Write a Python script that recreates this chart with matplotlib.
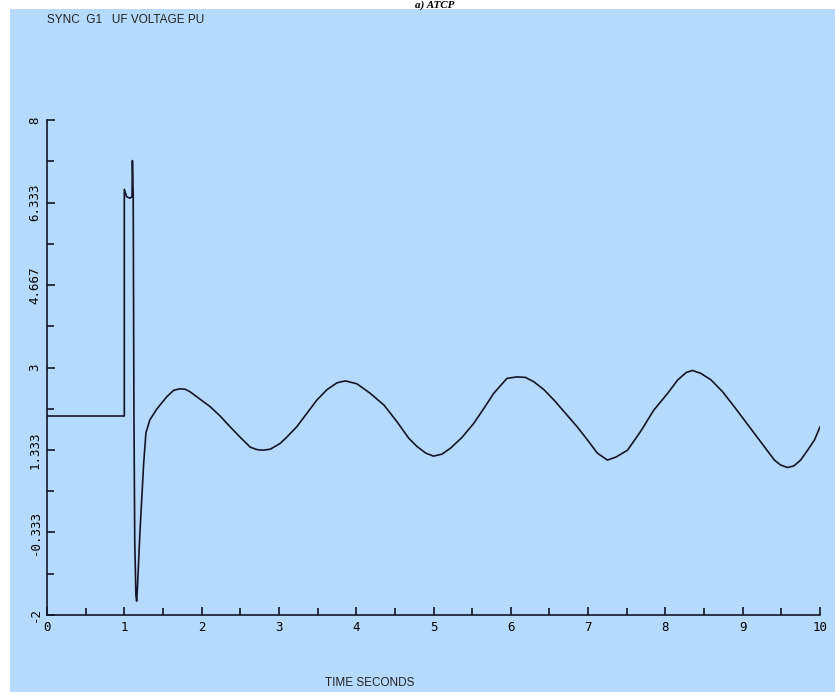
import matplotlib
matplotlib.use("Agg")
import matplotlib.pyplot as plt
from matplotlib.patches import Rectangle

# datos (tiempo en s, tension en pu)
tiempo = [0.0, 1.0, 1.0, 1.03, 1.07, 1.10, 1.105, 1.115, 1.125, 1.135,
          1.15, 1.16, 1.17, 1.20, 1.25, 1.28, 1.33, 1.42, 1.55, 1.64,
          1.72, 1.79, 1.85, 1.98, 2.11, 2.24, 2.37, 2.50, 2.63, 2.72,
          2.80, 2.89, 3.02, 3.10, 3.23, 3.36, 3.49, 3.62, 3.75, 3.86,
          4.01, 4.18, 4.36, 4.53, 4.68, 4.79, 4.90, 5.00, 5.11, 5.22,
          5.37, 5.52, 5.65, 5.78, 5.95, 6.08, 6.19, 6.30, 6.43, 6.56,
          6.71, 6.86, 6.99, 7.12, 7.25, 7.36, 7.51, 7.68, 7.85, 8.03,
          8.16, 8.27, 8.35, 8.46, 8.59, 8.74, 8.89, 9.02, 9.15, 9.28,
          9.41, 9.49, 9.58, 9.66, 9.75, 9.84, 9.93, 10.0]
tension = [2.02, 2.02, 6.60, 6.45, 6.42, 6.45, 7.18, 6.50, 2.00, -0.50,
           -1.60, -1.72, -1.45, -0.40, 1.05, 1.68, 1.94, 2.16, 2.41, 2.54,
           2.57, 2.56, 2.51, 2.36, 2.21, 2.02, 1.80, 1.59, 1.39, 1.34,
           1.33, 1.35, 1.47, 1.59, 1.80, 2.07, 2.34, 2.55, 2.69, 2.73,
           2.67, 2.48, 2.24, 1.90, 1.57, 1.40, 1.27, 1.21, 1.25, 1.37,
           1.59, 1.87, 2.17, 2.48, 2.78, 2.81, 2.80, 2.71, 2.55, 2.34,
           2.07, 1.80, 1.54, 1.27, 1.13, 1.19, 1.33, 1.71, 2.14, 2.48,
           2.75, 2.90, 2.94, 2.88, 2.75, 2.51, 2.21, 1.94, 1.67, 1.40,
           1.13, 1.03, 0.98, 1.01, 1.13, 1.33, 1.54, 1.80]

ticks_y = [-2, -0.333, 1.333, 3, 4.667, 6.333, 8]
etiquetas_y = ["-2", "-0.333", "1.333", "3", "4.667", "6.333", "8"]
ticks_x = [0, 1, 2, 3, 4, 5, 6, 7, 8, 9, 10]

fondo = "#B5DAFB"

fig = plt.figure(figsize=(8.35, 6.92), dpi=100, facecolor="white")
fig.patches.append(Rectangle((10 / 835, 0), 1, 1 - 9 / 692,
                             transform=fig.transFigure, facecolor=fondo,
                             edgecolor="none", zorder=-10))

ax = fig.add_axes([47 / 835, 1 - 615 / 692, (820 - 47) / 835, (615 - 120) / 692])
ax.set_facecolor(fondo)
ax.patch.set_alpha(0)

ax.plot(tiempo, tension, color="#15152a", linewidth=1.2)

ax.set_xlim(0, 10)
ax.set_ylim(-2, 8)
for lado in ["top", "right"]:
    ax.spines[lado].set_visible(False)
for lado in ["left", "bottom"]:
    ax.spines[lado].set_color("#15152a")
    ax.spines[lado].set_linewidth(1.2)

ax.set_xticks(ticks_x)
ax.set_xticks([x + 0.5 for x in ticks_x[:-1]], minor=True)
ax.set_yticks(ticks_y)
ax.set_yticks([y + 0.8333 for y in ticks_y[:-1]], minor=True)
ax.set_yticklabels(etiquetas_y, rotation=90, va="center",
                   family="DejaVu Sans Mono", fontsize=9)
ax.set_xticklabels([str(x) for x in ticks_x], family="DejaVu Sans Mono", fontsize=9)
ax.tick_params(which="both", direction="in", color="#15152a", width=1.2)
ax.tick_params(which="major", length=6, pad=4)
ax.tick_params(which="minor", length=5)

fig.text(47 / 835, 1 - 20 / 692, "SYNC  G1   UF VOLTAGE PU", fontsize=8.5,
         family="Liberation Sans", va="center", ha="left", color="#222222")
fig.text(370 / 835, 1 - 683 / 692, "TIME SECONDS", fontsize=8.5,
         family="Liberation Sans", va="center", ha="center", color="#222222")
fig.text(435 / 835, 0.999, "a) ATCP", fontsize=8, family="Liberation Serif",
         fontweight="bold", style="italic", va="top", ha="center")

fig.savefig("out.png", dpi=100, facecolor="white")
